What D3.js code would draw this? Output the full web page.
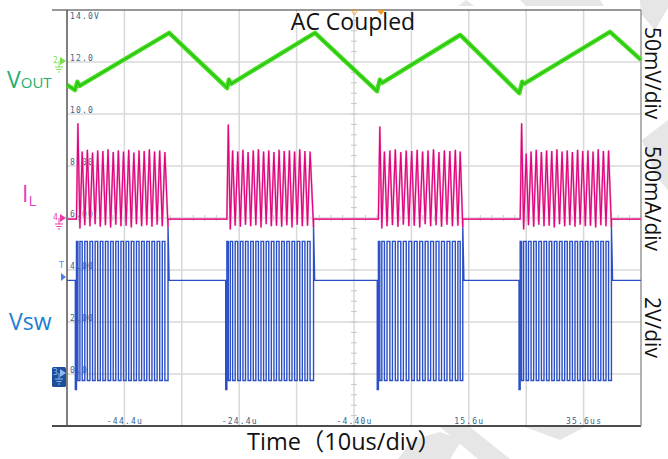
<!DOCTYPE html>
<html>
<head>
<meta charset="utf-8">
<script src="https://cdn.jsdelivr.net/npm/d3@7"></script>
<style>
  body { margin: 0; background: #fff; }
  svg { display: block; }
</style>
</head>
<body>
<div id="chart"></div>
<script>
// time in us, Vout in mV (AC coupled), IL in mA, Vsw in V
const timeTicks = [-44.4, -24.4, -4.4, 15.6, 35.6];
const timeTickLabels = ["-44.4u", "-24.4u", "-4.40u", "15.6u", "35.6us"];
const levelTicks = [0, 2, 4, 6, 8, 10, 12, 14];
const levelTickLabels = ["0.0", "2.00", "4.00", "6.00", "8.00", "10.0", "12.0", "14.0V"];

const voutPoints = [
  [-54.4, -22], [-53.0, -27], [-52.6, -19], [-52.2, -23], [-36.6, 28],
  [-26.5, -25], [-26.2, -17], [-25.8, -21], [-11.2, 28],
  [-0.4, -28], [0.1, -17], [0.5, -20], [14.1, 26],
  [24.4, -30], [24.9, -19], [25.2, -21], [40.2, 29], [45.6, 2]
];

const burstStart = [-52.95, -26.75, -0.35, 24.35];
const burstEnd = [-36.8, -11.45, 14.55, 40.45];

// high-side switch on / off instants
const swOn = [
  -52.75, -52.15, -51.30, -50.40, -49.50, -48.60, -47.70, -46.80, -45.90, -45.00, -44.10, -43.20, -42.30, -41.40, -40.50, -39.60, -38.70, -37.80,
  -26.55, -25.95, -25.10, -24.20, -23.30, -22.40, -21.50, -20.60, -19.70, -18.80, -17.90, -17.00, -16.10, -15.20, -14.30, -13.40, -12.50,
  -0.15, 0.45, 1.35, 2.30, 3.25, 4.20, 5.15, 6.10, 7.05, 8.00, 8.95, 9.90, 10.85, 11.80, 12.75, 13.70,
  24.55, 25.15, 26.00, 26.90, 27.80, 28.70, 29.60, 30.50, 31.40, 32.30, 33.20, 34.10, 35.00, 35.90, 36.80, 37.70, 38.60, 39.50
];
const swOff = [
  -52.50, -51.75, -50.85, -49.95, -49.05, -48.15, -47.25, -46.35, -45.45, -44.55, -43.65, -42.75, -41.85, -40.95, -40.05, -39.15, -38.25, -37.35,
  -26.30, -25.55, -24.65, -23.75, -22.85, -21.95, -21.05, -20.15, -19.25, -18.35, -17.45, -16.55, -15.65, -14.75, -13.85, -12.95, -12.05,
  0.10, 0.90, 1.85, 2.80, 3.75, 4.70, 5.65, 6.60, 7.55, 8.50, 9.45, 10.40, 11.35, 12.30, 13.25, 14.10,
  24.80, 25.60, 26.45, 27.35, 28.25, 29.15, 30.05, 30.95, 31.85, 32.75, 33.65, 34.55, 35.45, 36.35, 37.25, 38.15, 39.05, 39.95
];
// inductor current at each switch-off (peak) and switch-on (valley)
const ilPeak = [
  910, 640, 655, 630, 650, 645, 660, 635, 650, 640, 655, 630, 650, 645, 660, 640, 650, 635,
  900, 650, 640, 655, 635, 650, 660, 640, 650, 635, 655, 645, 650, 640, 660, 645, 640,
  880, 640, 650, 660, 635, 650, 645, 655, 640, 650, 660, 635, 650, 645, 655, 640,
  910, 620, 640, 655, 635, 650, 645, 660, 640, 650, 635, 655, 645, 650, 640, 660, 645, 650
];
const ilValley = [
  -10, -100, -70, -80, -60, -85, -70, -90, -65, -80, -75, -90, -60, -80, -70, -85, -65, -80,
  -10, -110, -75, -85, -65, -80, -70, -90, -60, -80, -75, -85, -70, -90, -65, -80, -75,
  -10, -100, -80, -70, -85, -65, -80, -75, -90, -60, -80, -70, -85, -65, -80, -75,
  -10, -110, -70, -85, -65, -80, -75, -90, -60, -80, -70, -85, -65, -80, -75, -90, -70, -80
];
const ilIdle = -10, ilEndValley = -90;
const vswHigh = 5.1, vswLow = -0.25, vswFirstLow = -0.6, vswIdle = 3.6, vswEndSpike = 5.7;

const width = 668, height = 459;
const plot = { left: 67, right: 641, top: 10, bottom: 426 };

const x = d3.scaleLinear().domain([-54.4, 45.6]).range([plot.left, plot.right]);
const yDiv = d3.scaleLinear().domain([-4, 4]).range([plot.bottom, plot.top]);
const yVout = d3.scaleLinear().domain([-350, 50]).range([plot.bottom, plot.top]);
const yIL = d3.scaleLinear().domain([-2000, 2000]).range([plot.bottom, plot.top]);
const yVsw = d3.scaleLinear().domain([-2, 14]).range([plot.bottom, plot.top]);

// build trace vertices from the switching instants
const ilPoints = [[-54.4, ilIdle]];
const vswPoints = [[-54.4, vswIdle]];
burstStart.forEach((s, b) => {
  const e = burstEnd[b];
  const idx = d3.range(swOn.length).filter(i => swOn[i] > s && swOn[i] < e);
  vswPoints.push([s, vswIdle], [s, vswFirstLow]);
  idx.forEach((i, k) => {
    ilPoints.push([swOn[i], ilValley[i]], [swOff[i], ilPeak[i]]);
    vswPoints.push([swOn[i], k === 0 ? vswFirstLow : vswLow], [swOn[i], vswHigh],
                   [swOff[i], vswHigh], [swOff[i], vswLow]);
  });
  ilPoints.push([e, ilEndValley], [e, ilIdle]);
  vswPoints.push([e, vswLow], [e, vswEndSpike], [e + 0.2, vswIdle]);
});
ilPoints.push([45.6, ilIdle]);
vswPoints.push([45.6, vswIdle]);

const svg = d3.select("#chart").append("svg")
  .attr("width", width).attr("height", height);

svg.append("rect").attr("width", width).attr("height", height).attr("fill", "#fff");

// faint watermark
const wm = svg.append("g").attr("fill", "#e6e6e6");
[
  [[640, 0], [668, 0], [668, 8], [655, 30], [641, 14]],
  [[520, 0], [600, 0], [604, 6], [526, 6]],
  [[458, 6], [466, 0], [474, 6]],
  [[440, 427], [470, 427], [510, 459], [478, 459]],
  [[525, 427], [585, 427], [560, 440]],
  [[398, 459], [412, 440], [440, 432], [462, 440], [450, 459]],
  [[642, 140], [668, 120], [668, 190], [655, 175]]
].forEach(p => wm.append("polygon").attr("points", p.join(" ")));

// grid
const grid = svg.append("g").attr("stroke", "#d9d9d9").attr("stroke-width", 1.5);
d3.range(-44.4, 45, 10).forEach(t => {
  grid.append("line").attr("x1", x(t)).attr("x2", x(t)).attr("y1", plot.top).attr("y2", plot.bottom);
});
d3.range(-3, 4).forEach(d => {
  grid.append("line").attr("x1", plot.left).attr("x2", plot.right).attr("y1", yDiv(d)).attr("y2", yDiv(d));
});

// minor ticks on center axes
const ticks = svg.append("g").attr("stroke", "#c8c8c8").attr("stroke-width", 1);
d3.range(-4, 4.01, 0.2).forEach(d => {
  ticks.append("line").attr("x1", x(-4.4) - 3).attr("x2", x(-4.4) + 3).attr("y1", yDiv(d)).attr("y2", yDiv(d));
});
d3.range(-54.4, 45.7, 2).forEach(t => {
  ticks.append("line").attr("x1", x(t)).attr("x2", x(t)).attr("y1", yDiv(0) - 3).attr("y2", yDiv(0) + 3);
});

// frame
svg.append("line").attr("x1", 52).attr("x2", plot.right).attr("y1", plot.top).attr("y2", plot.top)
  .attr("stroke", "#333").attr("stroke-width", 1.2);
svg.append("line").attr("x1", 52).attr("x2", plot.right).attr("y1", plot.bottom).attr("y2", plot.bottom)
  .attr("stroke", "#111").attr("stroke-width", 1.5);
svg.append("line").attr("x1", plot.left).attr("x2", plot.left).attr("y1", plot.top).attr("y2", plot.bottom)
  .attr("stroke", "#555").attr("stroke-width", 1.5);
svg.append("line").attr("x1", plot.right).attr("x2", plot.right).attr("y1", plot.top).attr("y2", plot.bottom)
  .attr("stroke", "#999").attr("stroke-width", 1.5);

// level labels (Vsw channel scale)
const levelAxis = d3.axisRight(yVsw).tickValues(levelTicks).tickSize(0)
  .tickFormat((d, i) => levelTickLabels[i]);
const la = svg.append("g").attr("transform", `translate(${plot.left},0)`).call(levelAxis);
la.select(".domain").remove();
la.selectAll("text")
  .attr("x", 3).attr("dy", d => d === 14 ? "8" : "-2")
  .attr("font-family", "DejaVu Sans Mono").attr("font-size", 8).attr("letter-spacing", 1.2)
  .attr("fill", "#3a5f8a").attr("text-anchor", "start").attr("dominant-baseline", "auto");

// time labels
const timeAxis = d3.axisBottom(x).tickValues(timeTicks).tickSize(0)
  .tickFormat((d, i) => timeTickLabels[i]);
const ta = svg.append("g").attr("transform", `translate(0,${plot.bottom})`).call(timeAxis);
ta.select(".domain").remove();
ta.selectAll("text")
  .attr("y", -2).attr("dy", 0)
  .attr("font-family", "DejaVu Sans Mono").attr("font-size", 8).attr("letter-spacing", 1.2)
  .attr("fill", "#3a5f8a");

// traces
const line = (ys) => d3.line().x(d => x(d[0])).y(d => ys(d[1]));

svg.append("path").datum(voutPoints).attr("d", line(yVout))
  .attr("fill", "none").attr("stroke", "#4ade25").attr("stroke-width", 4.5).attr("stroke-linejoin", "round");
svg.append("path").datum(voutPoints).attr("d", line(yVout))
  .attr("fill", "none").attr("stroke", "#28c014").attr("stroke-width", 1.4);

svg.append("path").datum(vswPoints).attr("d", line(yVsw))
  .attr("fill", "none").attr("stroke", "#2a4fc6").attr("stroke-width", 1.4);

svg.append("path").datum(ilPoints).attr("d", line(yIL))
  .attr("fill", "none").attr("stroke", "#f0a0cc").attr("stroke-width", 2);
svg.append("path").datum(ilPoints).attr("d", line(yIL))
  .attr("fill", "none").attr("stroke", "#e0057c").attr("stroke-width", 1.2);

// channel markers
const mk = svg.append("g");
function groundMarker(g, y, color, label) {
  g.append("text").attr("x", 53).attr("y", y + 2).text(label)
    .attr("font-family", "DejaVu Sans Mono").attr("font-size", 8).attr("fill", color);
  g.append("path").attr("d", `M60,${y - 4}L66,${y}L60,${y + 4}Z`).attr("fill", color);
  g.append("path")
    .attr("d", `M59,${y}V${y + 6}M55,${y + 6}H63M56.5,${y + 8.5}H61.5M58,${y + 11}H60`)
    .attr("stroke", color).attr("stroke-width", 1).attr("fill", "none");
}
groundMarker(mk, yVout(0) - 1, "#77e04a", "2");
groundMarker(mk, yIL(0), "#ee3aa6", "4");
mk.append("text").attr("x", 59).attr("y", 268).text("T")
  .attr("font-family", "DejaVu Sans").attr("font-size", 8).attr("fill", "#5588ee");
mk.append("path").attr("d", "M61,273L66,277L61,281Z").attr("fill", "#4f7fe8");
mk.append("rect").attr("x", 52).attr("y", 367).attr("width", 14).attr("height", 20).attr("rx", 1.5)
  .attr("fill", "#1d4f9c");
groundMarker(mk, yVsw(0) - 1, "#8fb8f0", "3");
mk.append("path").attr("d", "M351,10L358,10L354.5,15Z").attr("fill", "none").attr("stroke", "#f2a33a").attr("stroke-width", 1);
mk.append("path").attr("d", "M377,10L385,10L381,15Z").attr("fill", "#f29a1e");

// annotations
const font = "'Open Sans', 'Noto Sans', 'Noto Sans CJK SC', sans-serif";
svg.append("text").attr("x", 353).attr("y", 30).attr("text-anchor", "middle")
  .attr("font-family", font).attr("font-size", 23).attr("fill", "#111").text("AC Coupled");
svg.append("text").attr("x", 344).attr("y", 450).attr("text-anchor", "middle")
  .attr("font-family", font).attr("font-size", 23.5).attr("fill", "#111").text("Time（10us/div）");

const vo = svg.append("text").attr("x", 7).attr("y", 88).attr("font-family", font).attr("fill", "#1fae6d");
vo.append("tspan").attr("font-size", 23).text("V");
vo.append("tspan").attr("font-size", 15).text("OUT");
const il = svg.append("text").attr("x", 22).attr("y", 202).attr("font-family", font).attr("fill", "#e23fc4");
il.append("tspan").attr("font-size", 23).text("I");
il.append("tspan").attr("font-size", 15).attr("dy", 4).text("L");
svg.append("text").attr("x", 9).attr("y", 330).attr("font-family", font).attr("font-size", 23)
  .attr("fill", "#1d7dd2").text("Vsw");

const scaleLabels = ["50mV/div", "500mA/div", "2V/div"];
const scaleLabelY = [27, 146, 297];
scaleLabels.forEach((s, i) => {
  svg.append("text").attr("transform", `translate(645,${scaleLabelY[i]}) rotate(90)`)
    .attr("font-family", font).attr("font-size", 21).attr("fill", "#111").text(s);
});
</script>
</body>
</html>
